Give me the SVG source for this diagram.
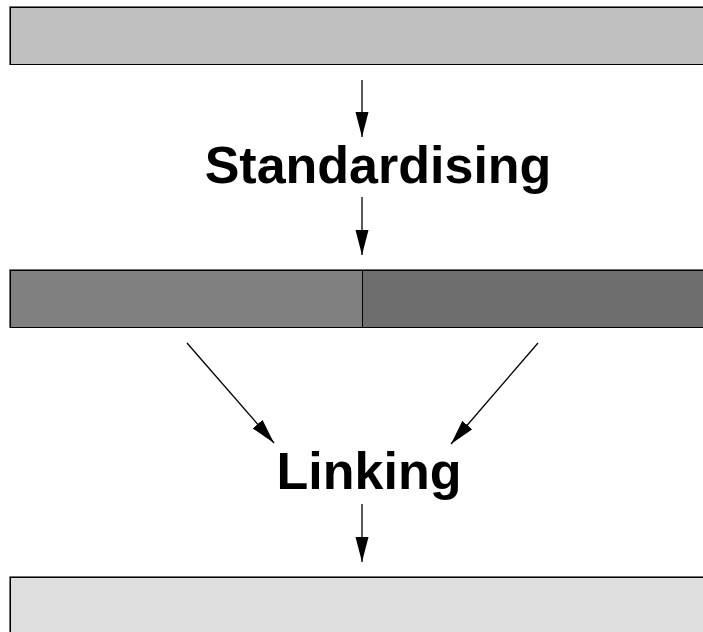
<svg xmlns="http://www.w3.org/2000/svg" width="703" height="632" viewBox="0 0 703 632">
<style>
.box{stroke:#000;stroke-width:1}
.bevel{stroke:#707070;stroke-width:1;fill:none}
.lbl{font-family:"Liberation Sans",Arial,sans-serif;font-weight:bold;font-size:52px;fill:#000;text-anchor:middle}
.conn{stroke:#000;stroke-width:1.3;fill:none;marker-end:url(#ah)}
</style>
<defs>
<marker id="ah" markerUnits="userSpaceOnUse" markerWidth="26" markerHeight="14" refX="25" refY="6.5" orient="auto">
<path d="M0,0 L25,6.5 L0,13 z" fill="#000"/>
</marker>
</defs>
<rect width="703" height="632" fill="#fff"/>
<g id="input">
<rect class="box" x="10.5" y="7.5" width="720" height="57" fill="#c0c0c0"/>
<path class="bevel" d="M9.5,65 V6.5 H710"/>
</g>
<g id="standardising">
<text class="lbl" x="378" y="182.5">Standardising</text>
</g>
<g id="standardised">
<rect class="box" x="10.5" y="270.5" width="352" height="57" fill="#808080"/>
<rect class="box" x="362.5" y="270.5" width="360" height="57" fill="#6e6e6e"/>
<path class="bevel" d="M9.5,328 V269.5 H710"/>
</g>
<g id="linking">
<text class="lbl" x="369" y="489">Linking</text>
</g>
<g id="output">
<rect class="box" x="10.5" y="577.5" width="720" height="70" fill="#dedede"/>
<path class="bevel" d="M9.5,640 V576.5 H710"/>
</g>
<g id="connectors">
<line class="conn" x1="362" y1="80" x2="362" y2="137"/>
<line class="conn" x1="362" y1="197" x2="362" y2="255"/>
<line class="conn" x1="187" y1="343" x2="274" y2="443"/>
<line class="conn" x1="538" y1="343" x2="451" y2="444"/>
<line class="conn" x1="362" y1="504" x2="362" y2="562"/>
</g>
</svg>
